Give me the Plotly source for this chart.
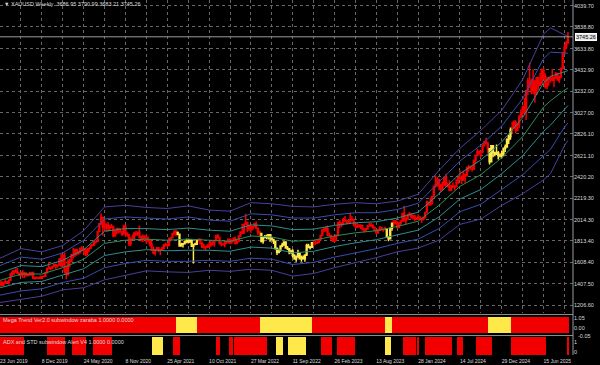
import plotly.graph_objects as go
import pandas as pd

# ---------------- data ----------------
first_bar = "2019-06-23"      # Sunday of first weekly bar shown
first_open = 1400.0
last_open = 3686.95

close_2019 = [1409,1399,1415,1426,1419,1440,1497,1513,1527,1520,1507,1488,1517,1497,1505,1488,1490,1505,1514,1459,1468,1462,1464,1460,1476,1478,1511]
close_2020 = [1552,1562,1557,1571,1589,1570,1584,1643,1585,1673,1530,1498,1617,1620,1683,1683,1729,1700,1702,1743,1735,1730,1683,1730,1743,1771,1775,1798,1810,1902,1975,2035,1944,1940,1964,1934,1940,1950,1862,1900,1930,1900,1902,1879,1951,1889,1871,1788,1839,1839,1881,1877]
close_2021 = [1895,1850,1828,1856,1847,1813,1824,1784,1734,1700,1727,1745,1732,1729,1744,1777,1777,1769,1831,1844,1881,1905,1891,1877,1764,1781,1787,1808,1812,1802,1814,1763,1780,1781,1818,1828,1787,1754,1750,1761,1757,1768,1793,1783,1818,1865,1846,1788,1783,1783,1798,1808,1829]
close_2022 = [1797,1818,1835,1791,1808,1859,1898,1889,1970,1988,1921,1958,1925,1947,1975,1932,1897,1883,1811,1846,1853,1851,1871,1840,1826,1811,1742,1703,1727,1766,1775,1802,1747,1738,1712,1716,1675,1643,1660,1695,1644,1657,1645,1681,1771,1751,1754,1797,1797,1793,1798,1824]
close_2023 = [1865,1920,1926,1928,1865,1865,1842,1811,1856,1868,1988,1978,1969,2008,2004,1983,1990,2017,2011,1977,1946,1948,1961,1958,1921,1919,1925,1955,1962,1959,1943,1913,1889,1915,1940,1919,1924,1925,1848,1833,1933,1981,2006,1992,1940,1981,2002,2072,2005,2020,2053,2063]
close_2024 = [2045,2049,2029,2018,2039,2024,2013,2036,2083,2179,2155,2165,2233,2330,2344,2392,2337,2301,2360,2415,2334,2327,2294,2333,2321,2326,2391,2411,2400,2387,2443,2431,2507,2512,2503,2497,2577,2621,2658,2653,2657,2721,2747,2736,2685,2563,2715,2650,2633,2648,2622,2621]
close_2025 = [2640,2690,2703,2770,2800,2861,2883,2936,2858,2910,2984,3023,3085,3037,3237,3327,3319,3240,3325,3205,3357,3289,3310,3432,3368,3274,3337,3355,3350,3337,3363,3398,3336,3371,3448,3587,3643,3685,3745.26]

high_2019 = [1439,1436,1427,1453,1434,1450,1510,1535,1537,1555,1557,1510,1522,1535,1519,1517,1499,1518,1517,1515,1475,1479,1467,1485,1484,1482,1521]
high_2020 = [1556,1611,1563,1575,1590,1592,1585,1649,1689,1692,1703,1575,1644,1645,1690,1747,1738,1739,1723,1752,1765,1738,1745,1745,1747,1779,1789,1818,1815,1904,1984,2075,2043,2015,1980,1992,1966,1973,1955,1917,1933,1933,1933,1910,1966,1966,1896,1875,1848,1875,1897,1906]
high_2021 = [1900,1959,1864,1875,1866,1875,1855,1825,1815,1760,1739,1755,1755,1740,1758,1785,1798,1790,1845,1845,1890,1912,1916,1903,1878,1795,1794,1818,1834,1833,1832,1831,1782,1795,1823,1834,1834,1808,1787,1764,1781,1800,1814,1810,1823,1868,1877,1849,1808,1794,1815,1812,1831]
high_2022 = [1832,1830,1848,1853,1815,1865,1902,1974,1974,2070,1990,1966,1960,1948,1985,1998,1936,1910,1884,1850,1870,1874,1879,1879,1847,1830,1814,1752,1739,1767,1795,1807,1803,1765,1744,1729,1735,1688,1675,1729,1700,1675,1676,1682,1786,1786,1764,1804,1810,1824,1824,1833]
high_2023 = [1870,1921,1937,1949,1960,1890,1870,1845,1858,1871,1990,2009,1990,2032,2048,2015,2009,2079,2048,2022,1985,1983,1971,1970,1958,1935,1935,1963,1987,1982,1971,1948,1915,1925,1953,1947,1933,1947,1933,1852,1933,1987,2009,2010,1993,1993,2007,2075,2146,2047,2070,2088]
high_2024 = [2078,2063,2062,2036,2065,2044,2032,2041,2088,2195,2185,2223,2236,2330,2432,2418,2394,2353,2378,2422,2450,2364,2388,2342,2368,2339,2392,2424,2483,2433,2477,2450,2509,2531,2525,2529,2579,2625,2685,2670,2664,2722,2758,2790,2750,2686,2721,2721,2657,2726,2665,2640]
high_2025 = [2665,2697,2725,2786,2817,2886,2942,2955,2956,2930,3004,3057,3087,3167,3245,3358,3500,3350,3435,3338,3366,3367,3403,3446,3452,3398,3365,3368,3377,3439,3363,3409,3404,3379,3453,3600,3674,3707,3790.99]

low_2019 = [1382,1382,1386,1412,1412,1400,1438,1480,1491,1513,1502,1484,1478,1463,1459,1474,1476,1483,1484,1456,1445,1456,1450,1456,1460,1471,1477]
low_2020 = [1508,1548,1536,1546,1563,1548,1562,1580,1563,1576,1505,1451,1484,1567,1612,1647,1661,1675,1680,1693,1717,1693,1671,1681,1705,1741,1761,1764,1792,1804,1900,1965,1863,1911,1902,1902,1906,1933,1848,1852,1874,1883,1891,1860,1877,1850,1853,1765,1764,1823,1830,1860]
low_2021 = [1863,1835,1808,1802,1831,1785,1807,1760,1717,1687,1676,1719,1705,1677,1721,1731,1763,1757,1765,1808,1841,1869,1855,1866,1761,1761,1751,1783,1792,1789,1795,1759,1600,1774,1774,1808,1782,1745,1738,1721,1746,1746,1760,1770,1758,1811,1843,1782,1762,1767,1753,1785,1789]
low_2022 = [1782,1789,1805,1780,1788,1805,1850,1878,1890,1970,1895,1910,1890,1915,1940,1925,1872,1851,1798,1787,1838,1829,1826,1805,1822,1785,1732,1681,1697,1711,1754,1770,1745,1727,1688,1691,1654,1639,1615,1659,1640,1617,1637,1616,1671,1748,1731,1745,1766,1774,1784,1797]
low_2023 = [1824,1866,1896,1900,1861,1853,1819,1809,1804,1809,1868,1934,1944,1967,1992,1969,1974,1977,2007,1952,1937,1932,1939,1925,1912,1893,1902,1923,1952,1942,1929,1911,1885,1884,1910,1915,1901,1915,1846,1810,1834,1909,1953,1969,1931,1932,1965,2000,2003,1973,2016,2046]
low_2024 = [2024,2013,2002,2010,2012,2014,1984,2014,2024,2078,2146,2146,2163,2228,2319,2325,2292,2277,2291,2334,2326,2325,2287,2286,2311,2293,2318,2353,2398,2353,2383,2364,2425,2470,2490,2471,2485,2546,2615,2624,2603,2643,2708,2729,2643,2537,2563,2605,2614,2631,2583,2603]
low_2025 = [2596,2614,2656,2700,2730,2772,2832,2880,2832,2857,2880,2982,3000,3015,2957,3194,3260,3202,3202,3121,3205,3245,3280,3293,3341,3255,3248,3283,3310,3324,3268,3346,3331,3311,3351,3436,3577,3627,3683.21]

# Mega Trend yellow runs (first week, last week, inclusive)
mega_yellow_runs = [("2021-06-06", "2021-08-22"), ("2022-05-08", "2022-11-27"),
                    ("2023-09-24", "2023-10-15"), ("2024-11-10", "2025-02-02")]
# ADX/STD histogram runs (bar index start, end exclusive)
adx_red_runs = [(0, 14), (28, 38), (42, 50), (54, 65), (100, 104), (125, 127), (132, 134),
                (135, 154), (185, 191), (194, 204), (232, 239), (240, 241), (245, 260),
                (263, 266), (274, 283), (294, 314), (326, 327)]
adx_yellow_runs = [(88, 94), (159, 163), (166, 176), (222, 225)]

# band indicator (centre line and step between lines)
band_dates = ["2019-06-23","2019-09-15","2019-12-08","2020-03-01","2020-05-24","2020-08-16",
              "2020-11-08","2021-01-31","2021-04-25","2021-07-18","2021-10-10","2022-01-02",
              "2022-03-27","2022-06-19","2022-09-11","2022-12-04","2023-02-26","2023-05-21",
              "2023-08-13","2023-11-05","2024-01-28","2024-04-21","2024-07-14","2024-10-06",
              "2024-12-29","2025-03-23","2025-06-15","2025-07-13","2025-09-07","2025-09-21"]
band_mid = [1440,1500,1500,1560,1640,1790,1820,1830,1820,1830,1820,1810,1860,1850,1810,1820,
            1860,1890,1910,1950,2000,2150,2330,2440,2600,2800,3080,3140,3240,3260]
band_step = [70,80,70,70,90,115,110,100,100,105,95,95,105,105,110,105,100,95,85,80,85,110,
             120,140,150,180,230,230,175,165]

grid_dates = pd.date_range("2019-06-23", "2025-09-21", freq="84D")
date_ticks = ["2019-06-23","2019-12-08","2020-05-24","2020-11-08","2021-04-25","2021-10-10",
              "2022-03-27","2022-09-11","2023-02-26","2023-08-13","2024-01-28","2024-07-14",
              "2024-12-29","2025-06-15"]
date_labels = ["23 Jun 2019","8 Dec 2019","24 May 2020","8 Nov 2020","25 Apr 2021","10 Oct 2021",
               "27 Mar 2022","11 Sep 2022","26 Feb 2023","13 Aug 2023","28 Jan 2024","14 Jul 2024",
               "29 Dec 2024","15 Jun 2025"]
price_ticks = [1206.60,1407.50,1608.40,1813.40,2014.30,2219.30,2420.20,2621.10,2826.10,
               3027.00,3232.00,3432.90,3633.80,3838.80,4039.70]
price_labels = ["%.2f" % v for v in price_ticks]
last_price = 3745.26
title_text = "▼ XAUUSD,Weekly  3686.95 3790.99 3683.21 3745.26"
sub1_name = "Mega Trend Ver2.0 subwindow zaraba 1.0000 0.0000"
sub2_name = "ADX and STD subwindow Alert V4 1.0000 0.0000"

# ---------------- build ----------------
closes = close_2019 + close_2020 + close_2021 + close_2022 + close_2023 + close_2024 + close_2025
highs = high_2019 + high_2020 + high_2021 + high_2022 + high_2023 + high_2024 + high_2025
lows = low_2019 + low_2020 + low_2021 + low_2022 + low_2023 + low_2024 + low_2025
opens = [first_open] + closes[:-1]
opens[-1] = last_open
weeks = pd.date_range(first_bar, periods=len(closes), freq="7D")

is_yellow = [any(pd.Timestamp(a) <= w <= pd.Timestamp(b) for a, b in mega_yellow_runs) for w in weeks]

RED = "#f20000"
YEL = "#ffe84a"
TXT = "#dcdcdc"
GRID = "#666666"

fig = go.Figure()

# bands
band_x = pd.to_datetime(band_dates)
band_cols = {3: "#4a3f9c", 2: "#3a4cb0", 1: "#2c8f8c", 0: "#2e8b57"}
for k in [3, 2, 1, 0, -1, -2, -3]:
    fig.add_trace(go.Scatter(x=band_x, y=[m + k * s for m, s in zip(band_mid, band_step)],
                             mode="lines", line=dict(color=band_cols[abs(k)], width=1),
                             hoverinfo="skip", showlegend=False, xaxis="x", yaxis="y"))

for yel, col in [(False, RED), (True, YEL)]:
    sel = [i for i in range(len(closes)) if is_yellow[i] == yel]
    fig.add_trace(go.Candlestick(
        x=[weeks[i] for i in sel], open=[opens[i] for i in sel], high=[highs[i] for i in sel],
        low=[lows[i] for i in sel], close=[closes[i] for i in sel],
        increasing=dict(line=dict(color=col, width=1.5), fillcolor=col),
        decreasing=dict(line=dict(color=col, width=1.5), fillcolor=col),
        whiskerwidth=0, showlegend=False, xaxis="x", yaxis="y"))

wk_ms = 7.3 * 86400000
fig.add_trace(go.Bar(x=weeks, y=[1] * len(weeks), base=0, width=wk_ms,
                     marker=dict(color=[YEL if y else RED for y in is_yellow], line=dict(width=0)),
                     showlegend=False, xaxis="x2", yaxis="y2"))

adx_x, adx_c = [], []
for runs, col in [(adx_red_runs, RED), (adx_yellow_runs, YEL)]:
    for a, b in runs:
        for i in range(a, min(b, len(weeks))):
            adx_x.append(weeks[i]); adx_c.append(col)
fig.add_trace(go.Bar(x=adx_x, y=[1] * len(adx_x), base=0, width=wk_ms,
                     marker=dict(color=adx_c, line=dict(width=0)),
                     showlegend=False, xaxis="x3", yaxis="y3"))

x0 = pd.Timestamp("2019-06-22 18:00")
x1 = x0 + pd.Timedelta(days=2302.6)
xr = [x0, x1]
font_small = dict(family="Liberation Sans, Arial", size=5.5, color=TXT)

fig.update_layout(
    width=600, height=365, margin=dict(l=0, r=27, t=0, b=10),
    paper_bgcolor="black", plot_bgcolor="black", showlegend=False, bargap=0,
    xaxis=dict(type="date", range=xr, domain=[0, 1], anchor="y", tickmode="array",
               tickvals=list(grid_dates), showticklabels=False, ticks="",
               showgrid=True, griddash="dot", gridcolor=GRID, gridwidth=1,
               zeroline=False, showline=False, rangeslider=dict(visible=False)),
    xaxis2=dict(type="date", range=xr, matches="x", anchor="y2", showticklabels=False,
                showgrid=False, ticks="", zeroline=False),
    xaxis3=dict(type="date", range=xr, matches="x", anchor="y3", tickmode="array",
                tickvals=pd.to_datetime(date_ticks), ticktext=date_labels,
                ticklabelposition="outside right", ticks="", showgrid=False,
                ticklabelstandoff=2,
                tickfont=dict(family="Liberation Sans, Arial", size=5, color=TXT),
                zeroline=False),
    yaxis=dict(domain=[42 / 355, 1], range=[1130.9, 4093.7], side="right", anchor="x",
               tickmode="array", tickvals=price_ticks, ticktext=price_labels,
               showgrid=True, griddash="dot", gridcolor=GRID, gridwidth=1,
               ticks="", tickfont=font_small, zeroline=False),
    yaxis2=dict(domain=[21 / 355, 39 / 355], range=[-0.05, 1.05], side="right", anchor="x2",
                tickmode="array", tickvals=[0.91, 0.29], ticktext=["1.05", "0.00"],
                showgrid=False, ticks="", tickfont=font_small, zeroline=False),
    yaxis3=dict(domain=[0, 18 / 355], range=[0, 1], side="right", anchor="x3",
                tickmode="array", tickvals=[0.72, 0.17], ticktext=["1", "0"],
                showgrid=False, ticks="", tickfont=font_small, zeroline=False),
)

# window borders and price line
fig.add_shape(type="line", xref="paper", yref="paper", x0=0, x1=1, y0=40.5 / 355, y1=40.5 / 355,
              line=dict(color="#8a8a8a", width=1))
fig.add_shape(type="line", xref="paper", yref="paper", x0=0, x1=1, y0=19.5 / 355, y1=19.5 / 355,
              line=dict(color="#8a8a8a", width=1))
fig.add_shape(type="line", xref="paper", yref="paper", x0=1, x1=1, y0=0, y1=1,
              line=dict(color="#9a9a9a", width=1))
fig.add_shape(type="line", xref="paper", yref="y", x0=0, x1=1, y0=last_price, y1=last_price,
              line=dict(color="#9a9a9a", width=1))

fig.add_annotation(xref="paper", yref="y", x=1, y=last_price, xanchor="left", yanchor="middle",
                   xshift=2, text="3745.26", showarrow=False, bgcolor="#e6e6e6",
                   bordercolor="#ffffff", borderwidth=1, borderpad=0,
                   font=dict(family="Liberation Sans, Arial", size=5.5, color="#000000"))
fig.add_annotation(xref="paper", yref="paper", x=1, y=(355 - 335.5) / 355, xanchor="left",
                   yanchor="middle", xshift=3, text="-0.05", showarrow=False, font=font_small)
fig.add_annotation(xref="paper", yref="paper", x=0, y=1, xanchor="left", yanchor="middle",
                   xshift=2, yshift=-4, text=title_text, showarrow=False, font=font_small)
fig.add_annotation(xref="paper", yref="paper", x=0, y=(355 - 319.5) / 355, xanchor="left",
                   yanchor="middle", xshift=1, text=sub1_name, showarrow=False, font=font_small)
fig.add_annotation(xref="paper", yref="paper", x=0, y=(355 - 342) / 355, xanchor="left",
                   yanchor="middle", xshift=1, text=sub2_name, showarrow=False, font=font_small)

fig.write_html("out.html")
